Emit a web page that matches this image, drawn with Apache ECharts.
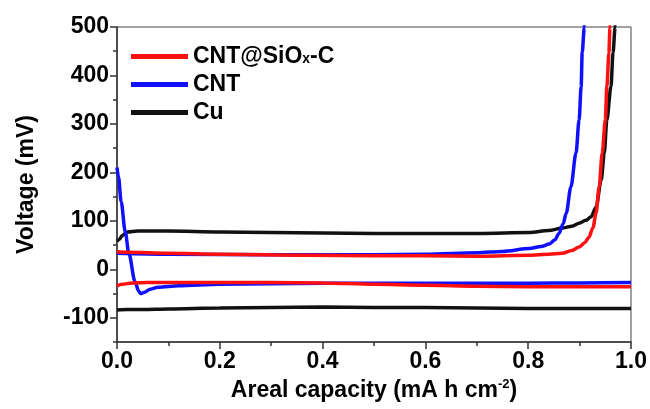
<!DOCTYPE html>
<html>
<head>
<meta charset="utf-8">
<script src="https://cdn.jsdelivr.net/npm/echarts@6/dist/echarts.min.js"></script>
<style>
  html, body { margin: 0; padding: 0; background: #fff; }
  #chart { width: 650px; height: 409px; }
</style>
</head>
<body>
<div id="chart"></div>
<script>
// Voltage profiles (mV) vs areal capacity (mA h cm^-2): plating (discharge) and stripping (charge)
const siocDischarge = [[0,-34],[0.01,-31],[0.03,-28],[0.06,-27],[0.1,-27],[0.2,-27],[0.3,-27],[0.4,-28],[0.5,-31],[0.6,-33],[0.7,-35],[0.8,-36],[0.9,-36],[1.0,-36]];
const siocCharge = [[0,36],[0.02,35],[0.1,33],[0.2,31],[0.37,29],[0.5,28],[0.6,28],[0.705,27],[0.802,29],[0.84,31],[0.866,33],[0.885,39],[0.899,46],[0.91,55],[0.918,66],[0.926,86],[0.932,116],[0.938,170],[0.944,240],[0.95,308],[0.953,377],[0.957,447],[0.959,498],[0.961,540]];
const cntDischarge = [[0,210],[0.003,190],[0.008,140],[0.016,78],[0.023,33],[0.035,-25],[0.042,-45],[0.046,-50],[0.052,-48],[0.065,-41],[0.08,-37],[0.12,-34],[0.2,-31],[0.4,-29],[0.6,-29],[0.8,-29],[0.9,-28],[1.0,-27]];
const cntCharge = [[0,33],[0.1,31],[0.3,30],[0.5,30],[0.6,31],[0.7,34],[0.75,37],[0.802,43],[0.825,47],[0.841,52],[0.852,61],[0.86,74],[0.868,94],[0.874,116],[0.883,170],[0.893,240],[0.899,308],[0.903,377],[0.905,447],[0.909,498],[0.911,540]];
const cuDischarge = [[0,-84],[0.02,-83],[0.05,-83],[0.1,-82],[0.2,-80],[0.3,-79],[0.4,-78],[0.5,-79],[0.6,-79],[0.7,-80],[0.8,-81],[0.9,-81],[1.0,-81]];
const cuCharge = [[0,58],[0.005,62],[0.01,70],[0.02,77],[0.04,79],[0.1,79],[0.2,77],[0.3,76],[0.4,75],[0.5,74],[0.6,74],[0.705,74],[0.802,76],[0.84,80],[0.866,85],[0.885,89],[0.899,95],[0.912,101],[0.922,108],[0.932,128],[0.942,184],[0.948,240],[0.953,308],[0.961,377],[0.965,447],[0.969,498],[0.971,540]];

const seriesNames = ['CNT@SiOx-C', 'CNT', 'Cu'];
const yTicks = [-100, 0, 100, 200, 300, 400, 500];

const colors = { 'CNT@SiOx-C': '#ff1010', 'CNT': '#1010ff', 'Cu': '#111111' };
const FONT = '"Liberation Sans", Arial, sans-serif';
const FS = 23;

function curve(name, data) {
  return {
    name: name,
    type: 'line',
    data: data,
    symbol: 'none',
    smooth: 0.3,
    smoothMonotone: 'x',
    clip: true,
    lineStyle: { width: 3.5, color: colors[name] },
    itemStyle: { color: colors[name] }
  };
}

const chart = echarts.init(document.getElementById('chart'), null, { renderer: 'canvas' });
chart.setOption({
  animation: false,
  backgroundColor: '#fff',
  grid: { left: 117, top: 27, right: 18, bottom: 67, show: true, borderColor: '#444', borderWidth: 1 },
  legend: {
    orient: 'vertical',
    left: 126,
    top: 40,
    icon: 'rect',
    itemWidth: 57,
    itemHeight: 5,
    itemGap: 5,
    data: seriesNames,
    formatter: function (n) {
      return n === 'CNT@SiOx-C' ? '{a|CNT@SiO}{s|x}{a|-C}' : '{a|' + n + '}';
    },
    textStyle: {
      rich: {
        a: { fontFamily: FONT, fontWeight: 'bold', fontSize: FS, color: '#000', lineHeight: 25 },
        s: { fontFamily: FONT, fontWeight: 'bold', fontSize: 14, color: '#000', lineHeight: 25, padding: [6, 0, 0, 0] }
      }
    }
  },
  xAxis: {
    type: 'value',
    min: 0,
    max: 1,
    interval: 0.2,
    name: '{a|Areal capacity (mA h cm}{s|-2}{a|)}',
    nameLocation: 'middle',
    nameGap: 29,
    nameTextStyle: {
      rich: {
        a: { fontFamily: FONT, fontWeight: 'bold', fontSize: FS, color: '#000' },
        s: { fontFamily: FONT, fontWeight: 'bold', fontSize: 13, color: '#000', padding: [0, 0, 12, 0] }
      }
    },
    axisLine: { onZero: false, lineStyle: { color: '#333', width: 1.5 } },
    axisTick: { length: 7, lineStyle: { color: '#333', width: 1.5 } },
    minorTick: { show: true, splitNumber: 2, length: 4, lineStyle: { color: '#333', width: 1.5 } },
    splitLine: { show: false },
    axisLabel: {
      fontFamily: FONT, fontWeight: 'bold', fontSize: FS, color: '#000', margin: 8,
      formatter: function (v) { return v.toFixed(1); }
    }
  },
  yAxis: [
    {
      type: 'value',
      min: -150,
      max: 500,
      interval: 50,
      name: 'Voltage (mV)',
      nameLocation: 'middle',
      nameGap: 79,
      nameTextStyle: { fontFamily: FONT, fontWeight: 'bold', fontSize: FS, color: '#000' },
      axisLine: { show: true, onZero: false, lineStyle: { color: '#333', width: 1.5 } },
      axisTick: { customValues: yTicks, length: 7, lineStyle: { color: '#333', width: 1.5 } },
      splitLine: { show: false },
      axisLabel: {
        customValues: yTicks,
        fontFamily: FONT, fontWeight: 'bold', fontSize: FS, color: '#000', margin: 8
      }
    },
    {
      // short ticks every 50 mV
      type: 'value',
      min: -150,
      max: 500,
      interval: 50,
      position: 'left',
      axisLine: { show: false },
      axisTick: { show: true, length: 4, lineStyle: { color: '#333', width: 1.5 } },
      axisLabel: { show: false },
      splitLine: { show: false }
    }
  ],
  series: [
    curve('Cu', cuDischarge),
    curve('Cu', cuCharge),
    curve('CNT', cntDischarge),
    curve('CNT', cntCharge),
    curve('CNT@SiOx-C', siocDischarge),
    curve('CNT@SiOx-C', siocCharge)
  ]
});
</script>
</body>
</html>
